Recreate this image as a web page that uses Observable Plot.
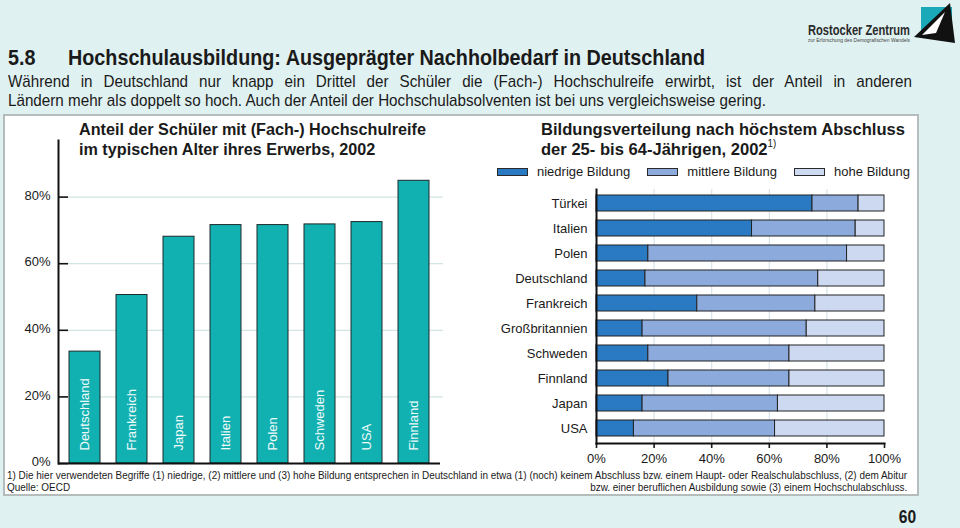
<!DOCTYPE html>
<html>
<head>
<meta charset="utf-8">
<script src="https://cdn.jsdelivr.net/npm/d3@7"></script>
<script src="https://cdn.jsdelivr.net/npm/@observablehq/plot@0.6"></script>
<style>
  html, body { margin: 0; padding: 0; }
  body { width: 960px; height: 528px; background: #e0f1f1; position: relative; overflow: hidden;
         font-family: "Liberation Sans", Arial, sans-serif; color: #1a1a1a; }
  .abs { position: absolute; white-space: nowrap; }
  #panel { left: 3px; top: 114px; width: 912px; height: 378px; background: #fff; border: 2px solid #b4bcbc; }
  .title { font-size: 22px; font-weight: bold; line-height: 26px; }
  .lead { font-size: 17px; line-height: 19px; }
  .ctitle { font-size: 17px; font-weight: bold; line-height: 20px; }
  .ctitle sup { font-size: 10px; font-weight: normal; vertical-align: top; line-height: 10px; position: relative; top: -1px; }
  #legend { left: 497px; top: 164px; width: 413px; display: flex; justify-content: space-between; font-size: 13px; }
  #legend .item { display: flex; align-items: center; white-space: nowrap; }
  #legend .sw { width: 29px; height: 6px; border: 1px solid #2a2a2a; margin-right: 9px; }
  .foot { font-size: 11px; line-height: 11px; }
  #page { font-size: 19px; font-weight: bold; }
  .logoA { font-size: 15px; font-weight: bold; color: #2b2b2b; }
  .logoB { font-size: 5px; color: #444; }
</style>
</head>
<body>
<script>
// ---------- data ----------
const leftCountries = ["Deutschland", "Frankreich", "Japan", "Italien", "Polen", "Schweden", "USA", "Finnland"];
const leftValues = [33.6, 50.6, 68.1, 71.6, 71.6, 71.8, 72.5, 84.9];
const leftTicks = [0, 20, 40, 60, 80];

const rightCountries = ["Türkei", "Italien", "Polen", "Deutschland", "Frankreich", "Großbritannien", "Schweden", "Finnland", "Japan", "USA"];
const niedrig = [75, 54, 18, 17, 35, 16, 18, 25, 16, 13];
const mittel  = [16, 36, 69, 60, 41, 57, 49, 42, 47, 49];
const hoch    = [9, 10, 13, 23, 24, 27, 33, 33, 37, 38];
const levels = ["niedrige Bildung", "mittlere Bildung", "hohe Bildung"];
const levelColors = ["#2a7ac3", "#8caadc", "#cdd9f1"];
const rightTicks = [0, 20, 40, 60, 80, 100];
const rightGrid = [20, 40, 60, 80];

// ---------- static text (narrow look via horizontal scaling) ----------
const body = document.body;
function add(html) { const d = document.createElement("div"); d.innerHTML = html; const n = d.firstElementChild; body.appendChild(n); return n; }
function scaleX(node, s, origin) { node.style.transformOrigin = origin || "0 0"; node.style.transform = `scaleX(${s})`; }
function fitWidth(node, target, origin) { const w = node.getBoundingClientRect().width; const s = target / w; scaleX(node, s, origin); return s; }

add(`<div id="panel" class="abs"></div>`);

const tNum = add(`<div class="abs title" style="left:8px;top:45px">5.8</div>`);
const tTxt = add(`<div class="abs title" style="left:68px;top:45px">Hochschulausbildung: Ausgeprägter Nachholbedarf in Deutschland</div>`);
const sTitle = fitWidth(tTxt, 637);
scaleX(tNum, sTitle);

const lead2 = add(`<div class="abs lead" style="left:8px;top:91px">Ländern mehr als doppelt so hoch. Auch der Anteil der Hochschulabsolventen ist bei uns vergleichsweise gering.</div>`);
const sLead = fitWidth(lead2, 758);
const lead1 = add(`<div class="abs lead" style="left:8px;top:72px;text-align:justify;text-align-last:justify;width:${(904 / sLead).toFixed(1)}px">Während in Deutschland nur knapp ein Drittel der Schüler die (Fach-) Hochschulreife erwirbt, ist der Anteil in anderen</div>`);
scaleX(lead1, sLead);

const lt1 = add(`<div class="abs ctitle" style="left:79px;top:120px">Anteil der Schüler mit (Fach-) Hochschulreife</div>`);
const sL = fitWidth(lt1, 347);
const lt2 = add(`<div class="abs ctitle" style="left:79px;top:140px">im typischen Alter ihres Erwerbs, 2002</div>`);
scaleX(lt2, sL);
const rt1 = add(`<div class="abs ctitle" style="left:541px;top:120px">Bildungsverteilung nach höchstem Abschluss</div>`);
const sR = fitWidth(rt1, 364);
const rt2 = add(`<div class="abs ctitle" style="left:541px;top:140px">der 25- bis 64-Jährigen, 2002<sup>1)</sup></div>`);
scaleX(rt2, sR);

const legend = add(`<div id="legend" class="abs"></div>`);
levels.forEach((l, i) => {
  const it = document.createElement("div");
  it.className = "item";
  it.innerHTML = `<span class="sw" style="background:${levelColors[i]}"></span><span>${l}</span>`;
  legend.appendChild(it);
});

const f1 = add(`<div class="abs foot" style="left:7px;top:470px">1) Die hier verwendeten Begriffe (1) niedrige, (2) mittlere und (3) hohe Bildung entsprechen in Deutschland in etwa (1) (noch) keinem Abschluss bzw. einem Haupt- oder Realschulabschluss, (2) dem Abitur</div>`);
const sF = fitWidth(f1, 900);
const f2a = add(`<div class="abs foot" style="left:7px;top:482px">Quelle: OECD</div>`);
scaleX(f2a, sF);
const f2b = add(`<div class="abs foot" style="right:53px;top:482px">bzw. einer beruflichen Ausbildung sowie (3) einem Hochschulabschluss.</div>`);
scaleX(f2b, sF, "100% 0");

const pg = add(`<div id="page" class="abs" style="right:44px;top:506px">60</div>`);
scaleX(pg, 0.82, "100% 0");

const la = add(`<div class="abs logoA" style="left:808px;top:21px">Rostocker Zentrum</div>`);
fitWidth(la, 102);
const lb = add(`<div class="abs logoB" style="left:808px;top:37px">zur Erforschung des Demografischen Wandels</div>`);
fitWidth(lb, 102);
add(`<svg class="abs" style="left:912px;top:0px" width="48" height="46" viewBox="0 0 48 46">
  <rect x="9" y="7" width="31" height="29" fill="#1aa9b8"/>
  <polygon points="2,37 38,3 43,43" fill="#111"/>
  <polygon points="10,35 33,12 24,33" fill="#fff"/>
</svg>`);

// ---------- left chart ----------
const leftData = leftCountries.map((c, i) => ({country: c, value: leftValues[i]}));
const left = Plot.plot({
  width: 452, height: 350,
  marginLeft: 58, marginRight: 12, marginTop: 10, marginBottom: 17,
  x: {domain: leftCountries, paddingInner: 0.35, paddingOuter: 0.19, axis: null, label: null},
  y: {domain: [0, 97], label: null},
  style: {background: "transparent", fontFamily: "Liberation Sans, Arial, sans-serif", fontSize: "13px", color: "#1a1a1a", overflow: "visible"},
  marks: [
    Plot.ruleY(leftTicks.filter(d => d > 0), {y: d => d, stroke: "#d3e4e4", strokeWidth: 1.2, insetLeft: 10, insetRight: -3}),
    Plot.tickY(leftTicks, {y: d => d, stroke: "#111", strokeWidth: 1.6, insetRight: 372}),
    Plot.axisY(leftTicks, {tickSize: 0, tickPadding: 8, tickFormat: d => d + "%", fontSize: 13, label: null, dy: -1.5}),
    Plot.barY(leftData, {x: "country", y: "value", fill: "#12b1b1", stroke: "#1c2a2a", strokeWidth: 1}),
    Plot.text(leftData, {x: "country", y: 0, text: "country", rotate: -90, textAnchor: "start", dy: -13, fill: "#f2fbfb", fontSize: 13}),
    Plot.ruleY([0], {stroke: "#111", strokeWidth: 2}),
    Plot.frame({anchor: "left", stroke: "#111", strokeWidth: 2})
  ]
});
left.style.position = "absolute";
left.style.left = "0px";
left.style.top = "130px";
body.appendChild(left);

// ---------- right chart ----------
const rightData = levels.flatMap((lvl, j) =>
  rightCountries.map((c, i) => ({country: c, level: lvl, value: [niedrig, mittel, hoch][j][i]})));
const right = Plot.plot({
  width: 440, height: 300,
  marginLeft: 116, marginRight: 36, marginTop: 9, marginBottom: 37,
  x: {domain: [0, 100], label: null},
  y: {domain: rightCountries, paddingInner: 0.35, paddingOuter: 0.12, label: null},
  color: {domain: levels, range: levelColors},
  style: {background: "transparent", fontFamily: "Liberation Sans, Arial, sans-serif", fontSize: "13px", color: "#1a1a1a", overflow: "visible"},
  marks: [
    Plot.ruleX(rightGrid, {x: d => d, stroke: "#d6e3ea", strokeWidth: 1.2}),
    Plot.barX(rightData, Plot.stackX({y: "country", x: "value", fill: "level", stroke: "#222", strokeWidth: 1})),
    Plot.axisY({tickSize: 0, tickPadding: 9, fontSize: 13, label: null}),
    Plot.axisX(rightTicks, {tickSize: 5, tickPadding: 5, tickFormat: d => d + "%", fontSize: 13, strokeWidth: 1.6, label: null}),
    Plot.frame({anchor: "bottom", stroke: "#111", strokeWidth: 2}),
    Plot.frame({anchor: "left", stroke: "#111", strokeWidth: 2})
  ]
});
right.style.position = "absolute";
right.style.left = "480px";
right.style.top = "180px";
body.appendChild(right);
</script>
</body>
</html>
